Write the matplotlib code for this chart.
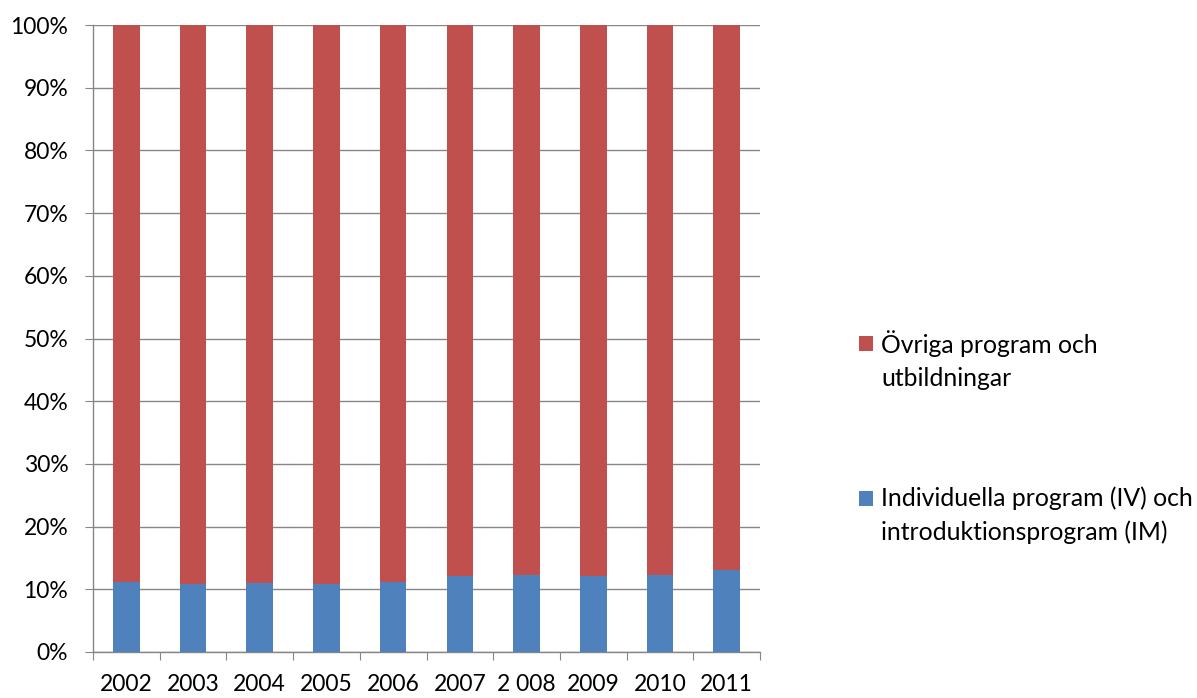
import matplotlib
matplotlib.use("Agg")
import matplotlib.pyplot as plt
from matplotlib.ticker import FixedLocator, PercentFormatter
from matplotlib.legend_handler import HandlerPatch
from matplotlib.patches import Rectangle

years = ["2002", "2003", "2004", "2005", "2006", "2007", "2 008", "2009", "2010", "2011"]
iv_im = [11.1, 10.8, 11.0, 10.9, 11.2, 12.2, 12.3, 12.05, 12.3, 13.0]
ovriga = [100 - v for v in iv_im]
label_ovriga = "Övriga program och\nutbildningar"
label_iv = "Individuella program (IV) och\nintroduktionsprogram (IM)"

plt.rcParams['font.family'] = ['Lato', 'DejaVu Sans']

fig = plt.figure(figsize=(11.97, 6.98), dpi=100)
ax = fig.add_axes([93/1197, 46/698, (760-93)/1197, (652-25)/698])

x = list(range(len(years)))
grid_c = "#868686"
b1 = ax.bar(x, iv_im, width=0.4, color="#4F81BD", zorder=3)
b2 = ax.bar(x, ovriga, width=0.4, bottom=iv_im, color="#C0504D", zorder=3)

ax.set_xlim(-0.5, len(years) - 0.5)
ax.set_ylim(0, 100)
ax.set_yticks(range(0, 101, 10))
ax.yaxis.set_major_formatter(PercentFormatter(decimals=0))
ax.yaxis.grid(True, color=grid_c, linewidth=1.0, zorder=0)

ax.xaxis.set_major_locator(FixedLocator([i - 0.5 for i in range(len(years) + 1)]))
ax.set_xticklabels([""] * (len(years) + 1))
ax.set_xticks(x, minor=True)
ax.set_xticklabels(years, minor=True)
ax.tick_params(axis='x', which='major', length=6, color=grid_c, direction='out')
ax.tick_params(axis='x', which='minor', length=0, pad=16, labelsize=16.5)
ax.tick_params(axis='y', length=5.8, color=grid_c, direction='out', labelsize=16.5, pad=12)

for s in ["top", "right"]:
    ax.spines[s].set_visible(False)
for s in ["left", "bottom"]:
    ax.spines[s].set_color(grid_c)
    ax.spines[s].set_linewidth(1.0)

LEG_FS = 17.8
SHIFT = 12.2  # points: align marker with first text line

def shifted_square(legend, orig_handle, xdescent, ydescent, width, height, fontsize):
    return Rectangle((-xdescent, -ydescent + SHIFT), width, height)

h_red = b2.patches[0]
h_blue = b1.patches[0]
leg = fig.legend([h_red, h_blue], [label_ovriga, label_iv], loc="upper left",
                 bbox_to_anchor=(859/1197, 1 - 330/698), frameon=False,
                 fontsize=LEG_FS, handlelength=0.57, handleheight=0.57,
                 handletextpad=0.32, labelspacing=3.9, borderaxespad=0, borderpad=0,
                 handler_map={h_red: HandlerPatch(patch_func=shifted_square),
                              h_blue: HandlerPatch(patch_func=shifted_square)})
for t in leg.get_texts():
    t.set_linespacing(1.52)

fig.savefig("out.png", dpi=100)
